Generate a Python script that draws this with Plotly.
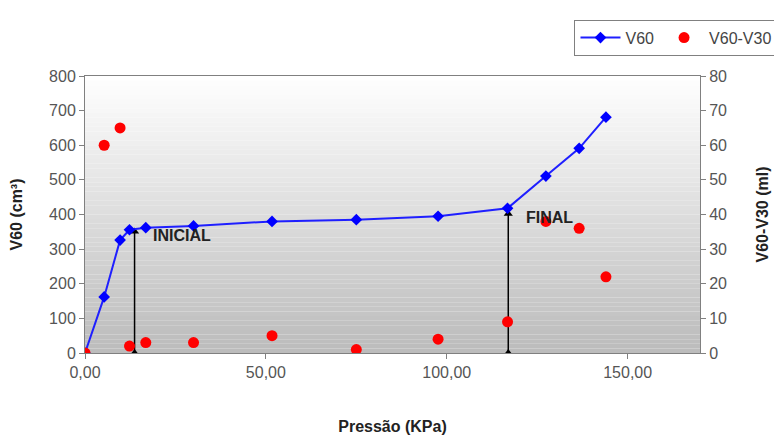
import plotly.graph_objects as go

pressao = [0.0, 5.3, 9.7, 12.3, 16.8, 30.0, 51.7, 75.0, 97.6, 116.8, 127.4, 136.6, 144.0]
v60 = [0, 162, 326, 356, 362, 367, 380, 385, 395, 418, 511, 591, 681]
v60_v30 = [0, 60, 65, 2, 3, 3, 5, 1, 4, 9, 38, 36, 22]

arrow_x = [13.7, 117.0]
arrow_top = [351, 402]
arrow_labels = ["INICIAL", "FINAL"]

fig = go.Figure()

# gradient background bands
n = 60
for i in range(n):
    t = i / (n - 1)
    c = int(255 - (255 - 188) * t)
    fig.add_shape(type="rect", xref="x domain", yref="y domain",
                  x0=0, x1=1, y0=1 - (i + 1) / n, y1=1 - i / n,
                  fillcolor=f"rgb({c},{c},{c})", line=dict(width=0), layer="below")

for xa, top in zip(arrow_x, arrow_top):
    fig.add_trace(go.Scatter(x=[xa, xa], y=[0, top], mode="lines+markers",
                             line=dict(color="black", width=1.5),
                             marker=dict(symbol="triangle-up", size=8, color="black"),
                             showlegend=False, hoverinfo="skip"))

fig.add_trace(go.Scatter(x=pressao, y=v60, name="V60", mode="lines+markers",
                         line=dict(color="#1f1fff", width=2),
                         marker=dict(symbol="diamond", size=9, color="#0000ff")))
fig.add_trace(go.Scatter(x=pressao, y=v60_v30, name="V60-V30", mode="markers",
                         marker=dict(symbol="circle", size=11, color="#ff0000"),
                         yaxis="y2"))

for xa, top, lab in zip(arrow_x, arrow_top, arrow_labels):
    fig.add_annotation(x=xa, y=top, text=f"<b>{lab}</b>", showarrow=False,
                       xanchor="left", yanchor="middle", xshift=16, yshift=-4,
                       font=dict(family="Arial", size=16, color="#222222"))

tickfont = dict(family="Arial", size=16, color="#555555")
titlefont = dict(family="Arial", size=16, color="#222222")

fig.update_layout(
    width=782, height=443,
    margin=dict(l=77, r=88, t=60, b=98),
    paper_bgcolor="white", plot_bgcolor="white",
    separators=", ",
    xaxis=dict(range=[0, 170], tickvals=[0, 50, 100, 150], tickformat=".2f",
               ticks="outside", ticklen=5, tickcolor="#808080", automargin=False,
               showgrid=False, zeroline=False, showline=True, linecolor="#808080",
               mirror=True, tickfont=tickfont,
               title=dict(text="<b>Pressão (KPa)</b>", font=titlefont, standoff=40)),
    yaxis=dict(range=[0, 800], dtick=100, ticks="outside", ticklen=5, tickcolor="#808080",
               showgrid=False, zeroline=False, showline=True, linecolor="#808080",
               tickfont=tickfont, automargin=False,
               title=dict(text="<b>V60 (cm³)</b>", font=titlefont, standoff=22)),
    yaxis2=dict(range=[0, 80], dtick=10, overlaying="y", side="right",
                ticks="outside", ticklen=5, tickcolor="#808080", automargin=False,
                showgrid=False, zeroline=False, showline=True, linecolor="#808080",
                tickfont=tickfont,
                title=dict(text="<b>V60-V30 (ml)</b>", font=titlefont, standoff=30)),
    legend=dict(orientation="h", x=1.126, xanchor="right", y=1.2035, yanchor="top",
                bordercolor="#808080", borderwidth=1, bgcolor="white",
                itemwidth=40,
                font=dict(family="Arial", size=16, color="#444444")),
    showlegend=True,
)

fig.write_html("out.html")
